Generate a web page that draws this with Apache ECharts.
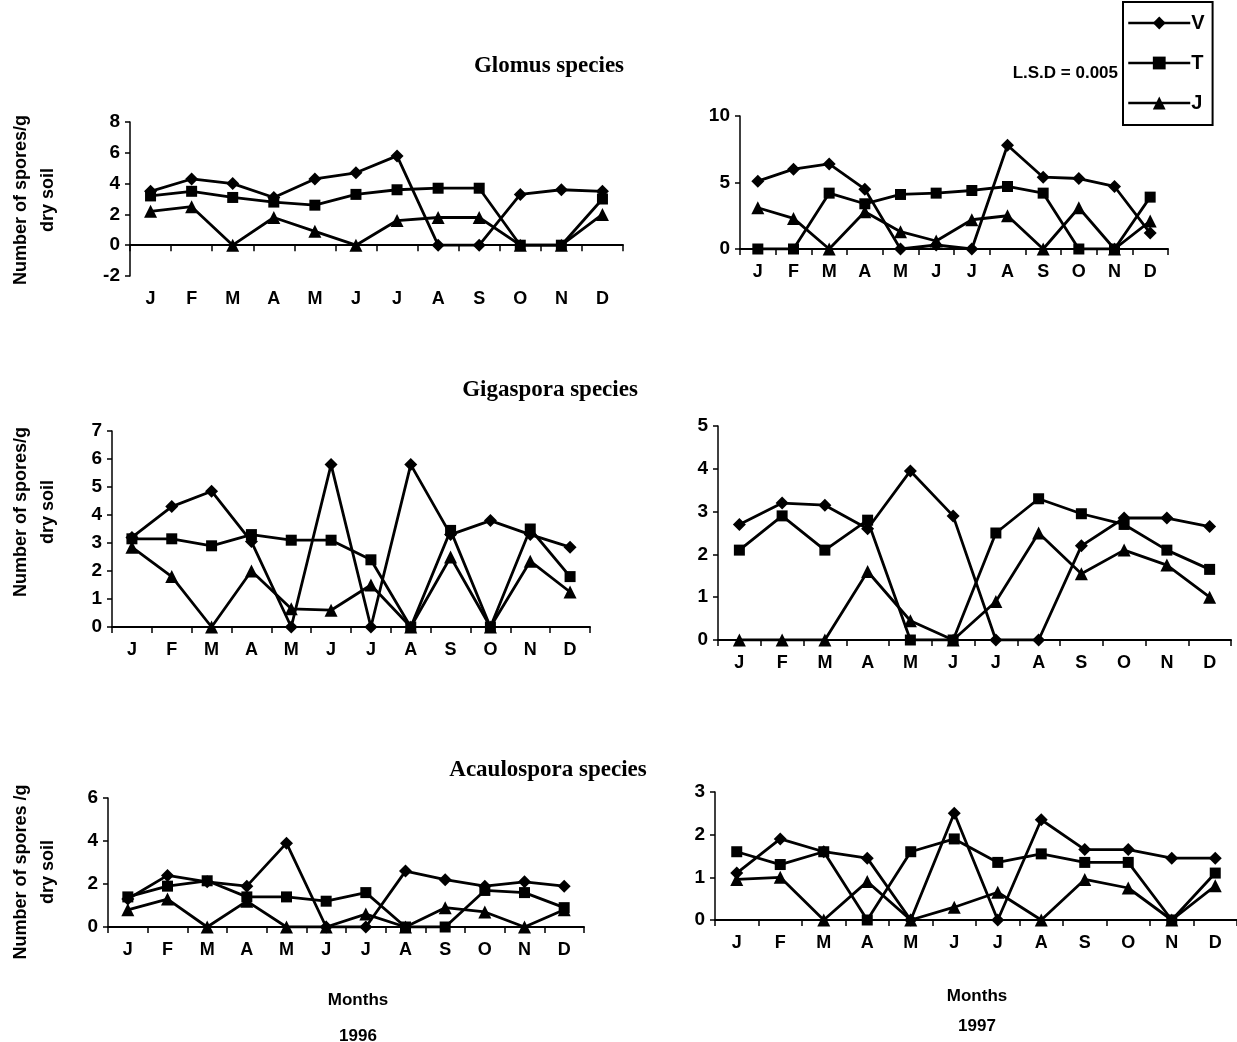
<!DOCTYPE html>
<html>
<head>
<meta charset="utf-8">
<script src="https://cdn.jsdelivr.net/npm/echarts@6/dist/echarts.min.js"></script>
<style>
  html, body { margin: 0; padding: 0; background: #fff; }
  #chart { width: 1237px; height: 1042px; }
</style>
</head>
<body>
<div id="chart"></div>
<script>
// months (x categories)
const months = ['J', 'F', 'M', 'A', 'M', 'J', 'J', 'A', 'S', 'O', 'N', 'D'];
const seriesNames = ['V', 'T', 'J'];

// Glomus species
const glomus96V = [3.5, 4.3, 4.0, 3.1, 4.3, 4.7, 5.8, 0, 0, 3.3, 3.6, 3.5];
const glomus96T = [3.2, 3.5, 3.1, 2.8, 2.6, 3.3, 3.6, 3.7, 3.7, 0, 0, 3.0];
const glomus96J = [2.2, 2.5, 0, 1.8, 0.9, 0, 1.6, 1.8, 1.8, 0, 0, 2.0];
const glomus97V = [5.1, 6.0, 6.4, 4.5, 0, 0.3, 0, 7.8, 5.4, 5.3, 4.7, 1.2];
const glomus97T = [0, 0, 4.2, 3.4, 4.1, 4.2, 4.4, 4.7, 4.2, 0, 0, 3.9];
const glomus97J = [3.1, 2.3, 0, 2.8, 1.3, 0.6, 2.2, 2.5, 0, 3.1, 0, 2.1];

// Gigaspora species
const gigas96V = [3.2, 4.3, 4.85, 3.05, 0, 5.8, 0, 5.8, 3.3, 3.8, 3.3, 2.85];
const gigas96T = [3.15, 3.15, 2.9, 3.3, 3.1, 3.1, 2.4, 0, 3.45, 0, 3.5, 1.8];
const gigas96J = [2.85, 1.8, 0, 2.0, 0.65, 0.6, 1.5, 0, 2.5, 0, 2.35, 1.25];
const gigas97V = [2.7, 3.2, 3.15, 2.6, 3.95, 2.9, 0, 0, 2.2, 2.85, 2.85, 2.65];
const gigas97T = [2.1, 2.9, 2.1, 2.8, 0, 0, 2.5, 3.3, 2.95, 2.7, 2.1, 1.65];
const gigas97J = [0, 0, 0, 1.6, 0.45, 0, 0.9, 2.5, 1.55, 2.1, 1.75, 1.0];

// Acaulospora species
const acaul96V = [1.3, 2.4, 2.1, 1.9, 3.9, 0, 0, 2.6, 2.2, 1.9, 2.1, 1.9];
const acaul96T = [1.4, 1.9, 2.15, 1.4, 1.4, 1.2, 1.6, 0, 0, 1.7, 1.6, 0.9];
const acaul96J = [0.8, 1.3, 0, 1.2, 0, 0, 0.6, 0, 0.9, 0.7, 0, 0.8];
const acaul97V = [1.1, 1.9, 1.6, 1.45, 0, 2.5, 0, 2.35, 1.65, 1.65, 1.45, 1.45];
const acaul97T = [1.6, 1.3, 1.6, 0, 1.6, 1.9, 1.35, 1.55, 1.35, 1.35, 0, 1.1];
const acaul97J = [0.95, 1.0, 0, 0.9, 0, 0.3, 0.65, 0, 0.95, 0.75, 0, 0.8];

// y axis ranges [min, max, interval]
const yRanges = [[-2, 8, 2], [0, 10, 5], [0, 7, 1], [0, 5, 1], [0, 6, 2], [0, 3, 1]];

const panels = [
    { data: [glomus96V, glomus96T, glomus96J], grid: { left: 130, top: 122, width: 493, height: 154 } },
    { data: [glomus97V, glomus97T, glomus97J], grid: { left: 740, top: 116, width: 428, height: 133 } },
    { data: [gigas96V, gigas96T, gigas96J], grid: { left: 112, top: 431, width: 478, height: 196 } },
    { data: [gigas97V, gigas97T, gigas97J], grid: { left: 718, top: 426, width: 513, height: 214 } },
    { data: [acaul96V, acaul96T, acaul96J], grid: { left: 108, top: 798, width: 476, height: 129 } },
    { data: [acaul97V, acaul97T, acaul97J], grid: { left: 715, top: 792, width: 522, height: 128 } }
];

const sans = "'Liberation Sans', Arial, sans-serif";
const serif = "'Liberation Serif', 'Times New Roman', serif";
const symbols = ['diamond', 'rect', 'triangle'];
const symbolSizes = [13, 11, 13];

const chart = echarts.init(document.getElementById('chart'));

const grids = [], xAxes = [], yAxes = [], series = [];
panels.forEach((p, i) => {
    grids.push(p.grid);
    // axis line at zero with ticks
    xAxes.push({
        type: 'category', gridIndex: i, data: months, boundaryGap: true,
        axisLine: { onZero: true, lineStyle: { color: '#000', width: 2 } },
        axisTick: { show: true, length: 6, lineStyle: { color: '#000', width: 1.5 } },
        axisLabel: { show: false }
    });
    // month labels at the bottom
    xAxes.push({
        type: 'category', gridIndex: i, data: months, position: 'bottom', boundaryGap: true,
        axisLine: { show: false, onZero: false },
        axisTick: { show: false },
        axisLabel: { margin: 14, color: '#000', fontFamily: sans, fontWeight: 'bold', fontSize: 18 }
    });
    const r = yRanges[i];
    yAxes.push({
        type: 'value', gridIndex: i, min: r[0], max: r[1], interval: r[2],
        axisLine: { show: true, lineStyle: { color: '#000', width: 1.5 } },
        axisTick: { show: true, length: 5, lineStyle: { color: '#000', width: 1.5 } },
        splitLine: { show: false },
        axisLabel: { margin: 10, color: '#000', fontFamily: sans, fontWeight: 'bold', fontSize: 19 }
    });
    p.data.forEach((vals, k) => {
        series.push({
            name: seriesNames[k], type: 'line', xAxisIndex: i * 2, yAxisIndex: i,
            data: vals, symbol: symbols[k], symbolSize: symbolSizes[k],
            itemStyle: { color: '#000' },
            lineStyle: { color: '#000', width: 2.8 },
            animation: false
        });
    });
});

const yName = (x, y, text) => ({
    type: 'text', x: x, y: y, rotation: Math.PI / 2,
    style: {
        text: text, fill: '#000', font: "bold 18px " + sans,
        align: 'center', verticalAlign: 'middle', lineHeight: 27
    }
});
const label = (x, y, text, font) => ({
    type: 'text', x: x, y: y,
    style: { text: text, fill: '#000', font: font, align: 'center', verticalAlign: 'middle' }
});

const option = {
    backgroundColor: '#fff',
    animation: false,
    grid: grids,
    xAxis: xAxes,
    yAxis: yAxes,
    series: series,
    legend: {
        data: seriesNames, orient: 'vertical', left: 1123, top: 2,
        padding: [11, 8, 12, 4], itemGap: 20, itemWidth: 62, itemHeight: 16,
        borderColor: '#000', borderWidth: 2, borderRadius: 0,
        lineStyle: { width: 2.5, color: '#000' },
        itemStyle: { color: '#000' },
        textStyle: { color: '#000', fontFamily: sans, fontWeight: 'bold', fontSize: 20, padding: [0, 0, 0, -4] },
        selectedMode: false
    },
    graphic: [
        label(549, 66, 'Glomus species', 'bold 23px ' + serif),
        label(550, 390, 'Gigaspora species', 'bold 23px ' + serif),
        label(548, 770, 'Acaulospora species', 'bold 23px ' + serif),
        { type: 'text', x: 1118, y: 73, style: { text: 'L.S.D = 0.005', fill: '#000', font: 'bold 17px ' + sans, align: 'right', verticalAlign: 'middle' } },
        yName(35, 200, 'Number of spores/g\ndry soil'),
        yName(35, 512, 'Number of spores/g\ndry soil'),
        yName(35, 872, 'Number of spores /g\ndry soil'),
        label(358, 1000, 'Months', 'bold 17px ' + sans),
        label(358, 1036, '1996', 'bold 17px ' + sans),
        label(977, 996, 'Months', 'bold 17px ' + sans),
        label(977, 1026, '1997', 'bold 17px ' + sans)
    ]
};

chart.setOption(option);
</script>
</body>
</html>
